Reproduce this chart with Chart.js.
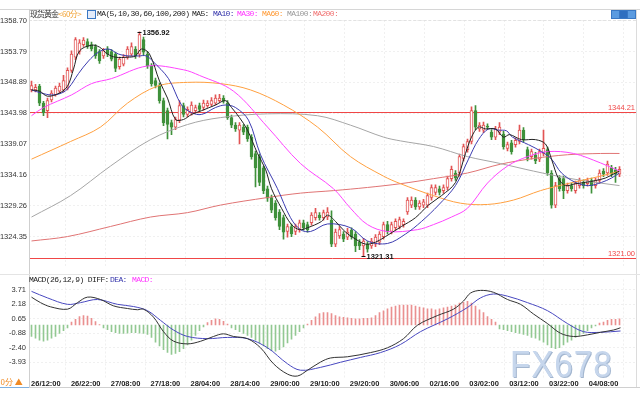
<!DOCTYPE html>
<html>
<head>
<meta charset="utf-8">
<script src="https://cdn.jsdelivr.net/npm/chart.js@4.4.0/dist/chart.umd.min.js"></script>
<style>
  body { margin:0; background:#fff; width:640px; height:400px; overflow:hidden; position:relative; font-family:"Liberation Sans", Arial, sans-serif; }
  canvas { position:absolute; left:0; }
  #main { top:0; }
  #macd { top:272px; }
  .t { position:absolute; white-space:nowrap; font-size:8px; line-height:10px; z-index:3; }
  .mono { font-family:"Liberation Mono", "DejaVu Sans Mono", monospace; letter-spacing:-0.6px; }
  .ln { position:absolute; z-index:2; }
  .ico { position:absolute; top:10px; width:7px; height:7px; background:#5b9be0; border:1px solid #3a78c4; z-index:3; }
  #wm { position:absolute; left:510px; top:344px; font-size:37px; color:#c6d6ec; text-shadow:1px 1px 0 #a3b6cf; transform:scaleX(0.9); transform-origin:left top; z-index:3; letter-spacing:1px; }
</style>
</head>
<body>
<canvas id="main" width="640" height="272"></canvas>
<canvas id="macd" width="640" height="128"></canvas>

<div class="ln" style="left:0;top:9px;width:640px;height:1px;background:#d6d6d6"></div>
<div class="ln" style="left:29px;top:20px;width:607px;border-top:1px dashed #e2e2e2"></div>
<div class="ln" style="left:29px;top:9px;width:1px;height:378px;background:#cfcfcf"></div>
<div class="ln" style="left:636px;top:9px;width:1px;height:378px;background:#dcdcdc"></div>
<div class="ln" style="left:0;top:274px;width:640px;height:1px;background:#e4e4e4"></div>
<div class="ln" style="left:0;top:387px;width:640px;height:1px;background:#d0d0d0"></div>
<div class="ln" style="left:0;top:387px;width:29px;height:1px;background:#7fb0e0"></div>

<span class="t" style="left:30px;top:9px;font-family:'Noto Sans CJK SC';letter-spacing:-1px;color:#333">现货黄金</span>
<span class="t" style="left:58px;top:9px;font-family:'Noto Sans CJK SC';letter-spacing:-0.5px;color:#f0a030">&lt;60分&gt;</span>
<div class="ico" style="left:87px;background:#e4ecfa"></div>
<span class="t mono" style="left:97px;top:9px;color:#222">MA(5,10,30,60,100,200)</span>
<span class="t mono" style="left:192px;top:9px;color:#222">MA5:</span>
<span class="t mono" style="left:213px;top:9px;color:#3333aa">MA10:</span>
<span class="t mono" style="left:237px;top:9px;color:#ff33ff">MA30:</span>
<span class="t mono" style="left:262px;top:9px;color:#ff9933">MA60:</span>
<span class="t mono" style="left:287px;top:9px;color:#999">MA100:</span>
<span class="t mono" style="left:313px;top:9px;color:#f07070">MA200:</span>
<div class="ico" style="left:611px"></div>
<div class="ico" style="left:619px;background:#2f6fc0"></div>
<div class="ico" style="left:627px"></div>

<span class="t mono" style="left:29px;top:275px;color:#222">MACD(26,12,9) DIFF:</span>
<span class="t mono" style="left:110px;top:275px;color:#3333aa">DEA:</span>
<span class="t mono" style="left:132px;top:275px;color:#ff33ff">MACD:</span>

<span class="t" style="left:-4px;top:377px;font-family:'Noto Sans CJK SC';color:#f08a24">60分 ▲</span>
<div id="wm">FX678</div>

<script>
// axis ticks and labels
const priceTicks = [1358.70, 1353.79, 1348.89, 1343.98, 1339.07, 1334.16, 1329.26, 1324.35];
const macdTicks = [3.71, 2.18, 0.65, -0.88, -2.40, -3.93];
const timeLabels = ['26/12:00','26/22:00','27/08:00','27/18:00','28/04:00','28/14:00','29/00:00',
  '29/10:00','29/20:00','30/06:00','02/16:00','03/02:00','03/12:00','03/22:00','04/08:00'];
const highMark = 1344.21;
const lowMark = 1321.00;

// hourly candles: [open, high, low, close]
const candles = [
  [1347.7,1349.1,1347.4,1348.4],[1347.7,1348.6,1347.4,1348.1],[1348.3,1348.6,1345.2,1345.6],[1345.6,1345.9,1343.6,1344.1],
  [1344.4,1346.4,1343.3,1346.0],[1346.1,1347.6,1345.8,1347.2],[1346.9,1348.3,1346.7,1348.0],[1347.5,1348.8,1347.2,1348.3],
  [1347.7,1350.0,1347.4,1349.2],[1348.0,1351.2,1347.7,1350.8],[1350.8,1353.9,1350.5,1353.4],[1352.9,1356.0,1352.5,1355.7],
  [1353.8,1355.7,1353.4,1355.2],[1354.9,1356.0,1354.6,1355.6],[1355.4,1355.8,1354.3,1354.6],[1354.9,1355.3,1353.9,1354.2],
  [1354.6,1354.9,1352.7,1353.1],[1353.8,1354.1,1351.9,1352.3],[1353.1,1354.3,1352.7,1353.9],[1354.2,1354.6,1353.0,1353.4],
  [1353.8,1354.1,1352.3,1352.6],[1353.4,1353.7,1350.6,1351.1],[1351.4,1352.9,1351.0,1352.6],[1351.8,1353.3,1351.5,1352.9],
  [1352.9,1354.6,1352.6,1354.2],[1353.4,1355.2,1353.1,1354.6],[1354.2,1354.6,1352.7,1353.1],[1353.4,1356.92,1352.9,1356.5],
  [1355.7,1356.1,1353.2,1353.7],[1353.4,1353.8,1351.1,1351.5],[1351.5,1351.9,1348.3,1348.7],[1349.2,1349.6,1348.0,1348.4],
  [1348.4,1348.8,1345.6,1346.0],[1346.0,1346.4,1342.0,1342.5],[1344.4,1344.8,1339.9,1342.2],[1342.5,1342.9,1340.6,1341.8],
  [1341.8,1343.4,1341.4,1343.0],[1342.9,1346.0,1342.5,1345.2],[1345.2,1345.6,1343.4,1343.8],[1343.8,1345.0,1343.4,1344.6],
  [1344.1,1345.8,1343.7,1345.3],[1344.4,1345.3,1344.0,1344.9],[1345.2,1345.6,1344.3,1344.6],[1344.9,1346.1,1344.5,1345.6],
  [1345.2,1346.0,1344.9,1345.6],[1345.4,1346.5,1345.1,1346.0],[1345.6,1346.9,1345.3,1346.4],[1346.0,1347.0,1345.7,1346.4],
  [1346.4,1346.8,1345.6,1345.9],[1345.6,1346.0,1343.0,1343.3],[1343.3,1343.7,1341.7,1342.1],[1342.1,1342.5,1341.1,1341.5],
  [1341.3,1342.5,1339.1,1342.1],[1341.8,1342.2,1340.6,1341.0],[1341.8,1342.1,1339.5,1339.9],[1340.2,1340.6,1336.7,1337.1],
  [1337.6,1338.0,1332.3,1335.3],[1337.1,1337.5,1332.5,1333.0],[1335.3,1335.6,1331.2,1331.7],[1332.0,1332.4,1330.0,1330.5],
  [1330.6,1331.0,1328.2,1328.6],[1329.7,1330.1,1327.0,1327.4],[1328.3,1328.7,1325.5,1326.0],[1327.4,1327.8,1324.0,1325.1],
  [1325.2,1326.4,1324.3,1326.0],[1326.0,1326.4,1324.4,1324.8],[1325.2,1326.4,1324.7,1326.0],[1325.5,1327.0,1325.1,1326.6],
  [1326.6,1327.0,1325.4,1325.8],[1326.3,1326.7,1325.1,1325.5],[1326.6,1328.2,1326.2,1327.8],[1327.4,1328.9,1327.0,1328.2],
  [1327.8,1328.2,1327.0,1327.4],[1327.4,1328.6,1327.0,1328.2],[1327.5,1329.0,1327.1,1328.3],[1327.0,1328.5,1322.8,1323.2],
  [1323.2,1325.6,1322.8,1325.1],[1324.5,1326.0,1324.1,1325.5],[1324.8,1325.2,1323.6,1324.0],[1324.3,1325.7,1323.9,1325.1],
  [1325.4,1325.8,1324.0,1324.4],[1324.8,1325.2,1322.0,1322.9],[1323.5,1323.9,1322.3,1322.9],[1322.9,1324.1,1321.31,1323.7],
  [1323.2,1323.6,1321.9,1322.4],[1322.9,1324.1,1322.5,1323.7],[1323.2,1324.7,1322.8,1324.3],[1323.5,1325.2,1323.1,1324.8],
  [1324.4,1326.7,1324.0,1326.3],[1326.3,1326.8,1324.8,1325.2],[1325.2,1326.7,1324.8,1326.3],[1325.8,1327.2,1325.4,1326.8],
  [1326.0,1327.5,1325.6,1327.1],[1326.3,1327.2,1325.9,1326.8],[1328.3,1330.6,1327.9,1330.2],[1329.4,1330.7,1329.0,1330.2],
  [1330.2,1330.6,1328.7,1329.1],[1329.1,1330.1,1328.7,1329.7],[1329.4,1330.3,1329.0,1329.9],[1329.4,1331.3,1329.0,1330.9],
  [1330.6,1332.6,1330.2,1332.2],[1331.4,1332.6,1331.0,1332.2],[1332.0,1332.4,1331.0,1331.4],[1331.7,1332.6,1331.3,1332.2],
  [1332.2,1334.0,1331.8,1333.6],[1333.6,1335.6,1333.2,1335.1],[1334.5,1334.9,1333.3,1333.7],[1334.5,1337.5,1334.0,1337.1],
  [1336.8,1339.1,1336.4,1338.7],[1338.2,1339.9,1337.8,1339.5],[1339.5,1345.0,1339.1,1344.4],[1344.4,1345.2,1341.4,1341.8],
  [1341.5,1342.5,1341.1,1342.1],[1341.3,1342.6,1340.9,1342.1],[1341.9,1342.3,1341.5,1341.8],[1341.0,1341.4,1339.8,1340.2],
  [1340.2,1341.9,1339.8,1341.5],[1341.0,1342.5,1340.6,1341.8],[1340.7,1341.1,1338.3,1338.7],[1338.4,1339.4,1338.0,1339.0],
  [1339.3,1339.7,1337.5,1337.9],[1339.0,1340.1,1338.6,1339.7],[1339.5,1342.1,1339.1,1341.3],[1341.3,1341.7,1339.4,1339.8],
  [1338.2,1338.6,1336.4,1336.8],[1337.1,1338.3,1336.7,1337.9],[1337.4,1337.8,1336.0,1336.4],[1336.7,1338.3,1336.3,1337.9],
  [1337.6,1341.3,1337.2,1338.4],[1338.2,1338.6,1334.1,1334.5],[1334.5,1334.9,1328.9,1329.4],[1329.4,1333.0,1329.0,1332.5],
  [1333.7,1334.1,1331.6,1332.0],[1333.6,1334.0,1330.4,1331.7],[1331.7,1332.9,1331.3,1332.5],[1332.5,1332.9,1331.6,1332.0],
  [1331.7,1333.2,1331.3,1332.8],[1332.5,1333.7,1332.1,1333.3],[1333.0,1333.4,1332.1,1332.5],[1332.8,1333.7,1332.4,1333.3],
  [1333.3,1333.7,1331.3,1332.5],[1332.5,1333.7,1332.1,1333.3],[1333.3,1335.0,1332.9,1334.5],[1334.8,1335.2,1333.9,1334.3],
  [1334.5,1336.4,1334.1,1335.9],[1335.3,1335.7,1333.9,1334.3],[1335.0,1335.4,1333.0,1334.3],[1334.3,1335.5,1333.9,1335.1]
];

// moving averages: [candle index, price]
const ma5 = [[0,1347.7],[2,1347.5],[4,1346.7],[7,1347.2],[9,1348.3],[10.5,1351.0],[12,1353.9],[15,1354.8],[17,1354.5],
  [19,1353.4],[21,1352.9],[24,1352.9],[26,1353.1],[27.5,1354.2],[29.5,1353.4],[32,1349.1],[34,1346.4],[36,1343.0],
  [38,1343.0],[40,1343.8],[42.5,1344.4],[46,1345.3],[48.5,1346.0],[50,1344.9],[52,1343.3],[54,1341.3],[56.5,1337.6],
  [58.5,1335.1],[60,1332.0],[62.5,1328.9],[65,1326.3],[67,1325.5],[69,1325.8],[72.5,1326.8],[74,1327.8],[76,1326.8],
  [78.5,1325.1],[81,1324.0],[83.5,1323.2],[86,1323.5],[88.5,1324.4],[90.25,1325.1],[92.5,1326.0],[96,1327.4],
  [99.25,1329.4],[102.5,1330.9],[106,1333.0],[108.5,1337.6],[110,1340.2],[111.75,1341.8],[113.5,1341.5],[116,1341.5],
  [118,1340.2],[119.5,1340.6],[122.5,1339.8],[126,1339.8],[128.5,1339.1],[130,1336.7],[131.75,1333.6],[133.5,1332.5],
  [136,1332.8],[138.5,1333.0],[141,1333.3],[143.5,1333.7],[146,1334.5],[147,1334.8]];
const ma10 = [[0,1347.7],[2.5,1347.2],[5,1346.9],[7.5,1347.2],[9.25,1348.0],[11.75,1350.3],[14.25,1352.3],[16.75,1353.7],
  [19.25,1354.2],[21.75,1353.4],[24.25,1353.1],[26.75,1353.1],[28.75,1353.1],[30.25,1352.3],[34.25,1349.5],[37.5,1345.3],
  [40,1344.1],[42.5,1343.8],[46,1344.9],[48.5,1345.3],[51,1344.9],[54.25,1342.9],[57.25,1337.4],[61.5,1332.0],
  [64.75,1327.4],[67.25,1325.5],[69.75,1325.2],[74,1326.4],[79.75,1325.8],[84,1323.7],[89,1323.3],[93.5,1324.8],
  [97.5,1326.8],[101.75,1329.4],[106,1332.5],[109.25,1336.7],[111.75,1339.8],[114.25,1341.5],[116.75,1341.3],
  [118.75,1341.2],[120.25,1340.2],[124.25,1339.0],[127.5,1337.9],[130,1336.7],[132.5,1334.5],[136,1333.0],
  [139.25,1332.5],[142.5,1333.0],[145,1333.7],[147,1334.5]];
const ma30 = [[0,1343.6],[3,1344.9],[10,1346.9],[15,1348.7],[20,1349.5],[29,1351.5],[38,1350.9],[42,1350.0],[50.5,1347.5],
  [59,1341.8],[67.25,1336.0],[75.5,1332.0],[79.75,1328.9],[84,1326.3],[89,1325.2],[96.5,1325.5],[100.5,1326.3],
  [105,1327.5],[109,1328.9],[114,1332.9],[119,1335.6],[124,1337.1],[129,1337.9],[135.5,1337.6],[142.25,1336.1],[147,1334.8]];
const ma60 = [[0,1336.7],[9.75,1339.5],[17.25,1341.8],[24,1345.6],[31.5,1348.3],[39,1348.9],[47.25,1348.7],[54.75,1347.7],
  [63,1345.3],[71.5,1341.8],[79.75,1337.1],[88,1334.0],[92.25,1332.8],[100.5,1330.9],[107.25,1329.7],[114,1329.5],
  [120.5,1330.2],[127.25,1331.7],[134,1332.8],[142.25,1334.0],[147,1334.8]];
const ma100 = [[0,1327.5],[9.75,1330.9],[19.75,1335.6],[29.75,1339.8],[39,1342.2],[47.25,1343.3],[59,1343.9],[71.5,1343.6],
  [79.75,1342.1],[88,1340.2],[92.25,1339.6],[100.5,1338.7],[109,1337.1],[117.25,1336.0],[125.5,1334.8],[134,1333.7],
  [142.25,1332.9],[147,1332.5]];
const ma200 = [[0,1323.7],[9,1324.4],[19.75,1326.0],[29.75,1327.5],[39,1328.2],[47.25,1329.4],[59,1330.6],[67.25,1331.3],
  [75.5,1331.7],[84,1332.2],[92.25,1332.8],[100.5,1333.6],[109,1334.5],[117.25,1335.9],[125.5,1336.8],[134,1337.4],
  [142.25,1337.6],[147,1337.6]];

// MACD
const difLine = [[0,2.94],[2.25,2.36],[4.75,1.92],[9,1.67],[11.5,2.36],[14,2.94],[17.25,2.69],[20.5,2.02],[24,1.74],
  [26.5,1.61],[28,1.67],[30.5,0.83],[33,-0.70],[35.5,-1.70],[39,-1.99],[42.25,-1.72],[45.5,-1.21],[48,-0.93],[50.5,-1.21],
  [54,-1.44],[57.25,-2.40],[60.5,-4.09],[64,-5.18],[66.5,-5.38],[69,-4.77],[72.25,-3.91],[74.75,-3.48],[79,-3.35],
  [84.75,-2.91],[89,-2.40],[93,-1.44],[96.5,-0.02],[101.5,1.00],[105.5,1.67],[108,2.53],[109.75,3.37],[112.25,3.65],
  [115.5,3.45],[119,2.69],[122.25,2.18],[125.5,1.16],[129,0.15],[132.25,-0.87],[135.5,-1.21],[139,-1.04],[142.25,-0.77],
  [145.5,-0.53],[147.25,-0.29]];
const deaLine = [[0,3.55],[4,2.86],[9,2.18],[12.25,2.36],[16.5,2.69],[21.5,2.18],[25.5,1.95],[29,1.51],[32.25,0.49],
  [35.5,-0.53],[39,-1.21],[44,-1.44],[49,-1.31],[54,-1.44],[59,-2.40],[64,-4.09],[67.25,-4.77],[72.25,-4.47],
  [77.25,-3.93],[82.25,-3.42],[87.25,-2.91],[92.25,-2.05],[97.25,-0.70],[104,0.65],[109,1.85],[112.25,2.86],
  [115.5,3.27],[119,3.04],[124,2.36],[129,1.51],[134,0.15],[138,-0.70],[142.25,-0.77],[147.25,-0.63]];
const macdHist = [
  -1.2,-1.4,-1.6,-1.7,-1.6,-1.4,-1.2,-0.9,-0.6,-0.3,
  0.3,0.6,0.9,1.0,0.95,0.7,0.35,0.05,-0.3,-0.5,
  -0.7,-0.8,-0.9,-0.9,-0.85,-0.8,-0.8,-0.85,-0.9,-1.0,
  -1.3,-1.8,-2.2,-2.6,-2.9,-3.1,-3.0,-2.8,-2.5,-2.1,
  -1.6,-1.1,-0.6,-0.2,0.25,0.5,0.65,0.6,0.4,0.1,
  -0.3,-0.5,-0.7,-0.9,-1.1,-1.3,-1.6,-1.9,-2.2,-2.5,
  -2.7,-2.75,-2.6,-2.3,-1.9,-1.5,-1.1,-0.7,-0.3,0.1,
  0.5,0.85,1.2,1.3,1.3,1.2,1.0,0.85,0.8,0.75,
  0.7,0.65,0.65,0.7,0.7,0.75,1.0,1.3,1.5,1.7,
  1.9,2.0,2.1,2.1,2.1,2.1,2.0,1.9,1.8,1.7,
  1.7,1.6,1.7,1.8,1.9,2.0,2.1,2.3,2.4,2.5,
  2.3,2.0,1.6,1.3,0.9,0.6,0.3,-0.4,-0.5,-0.6,
  -0.7,-0.8,-0.9,-1.0,-1.1,-1.3,-1.4,-1.6,-1.8,-2.1,
  -2.4,-2.5,-2.4,-2.1,-1.8,-1.6,-1.3,-1.1,-0.9,-0.6,
  -0.3,-0.1,0.2,0.3,0.5,0.6,0.6,0.65];

// layout: 4px per candle, plot from x=29 to x=636
const XMIN = -0.625, XMAX = 151.125;
const labelPos = timeLabels.map((_, k) => 3.6 + 9.96 * k);
const UP = '#e25454', DOWN = '#3f913b';

const pts = arr => arr.map(p => ({ x: p[0], y: p[1] }));
const isUp = c => c[3] >= c[0];
const maLine = (data, color) => ({ type: 'line', data: pts(data), borderColor: color, borderWidth: 1,
  pointRadius: 0, tension: 0.35, order: 1 });
const tickFont = { size: 7.5, family: '"Liberation Sans", Arial, sans-serif' };

const marks = {
  id: 'marks',
  beforeDatasetsDraw(chart) {
    const { ctx, chartArea: a, scales: { y } } = chart;
    ctx.save();
    ctx.strokeStyle = '#f04646';
    ctx.fillStyle = '#f04646';
    ctx.lineWidth = 1;
    ctx.font = '7.5px "Liberation Sans", Arial';
    ctx.textAlign = 'right';
    ctx.textBaseline = 'bottom';
    for (const v of [highMark, lowMark]) {
      const py = Math.round(y.getPixelForValue(v)) + 0.5;
      ctx.beginPath(); ctx.moveTo(a.left, py); ctx.lineTo(a.right, py); ctx.stroke();
      ctx.fillText(v.toFixed(2), a.right - 1, py - 1);
    }
    ctx.restore();
  },
  afterDatasetsDraw(chart) {
    const { ctx, scales: { x, y } } = chart;
    let hi = 0, lo = 0;
    candles.forEach((c, i) => { if (c[1] > candles[hi][1]) hi = i; if (c[2] < candles[lo][2]) lo = i; });
    ctx.save();
    ctx.fillStyle = '#111'; ctx.strokeStyle = '#111';
    ctx.font = 'bold 7.5px "Liberation Sans", Arial';
    ctx.textBaseline = 'middle';
    for (const [i, v] of [[hi, candles[hi][1]], [lo, candles[lo][2]]]) {
      const px = x.getPixelForValue(i), py = Math.round(y.getPixelForValue(v)) + 0.5;
      ctx.beginPath(); ctx.moveTo(px - 2, py); ctx.lineTo(px + 2, py); ctx.stroke();
      ctx.fillText(v.toFixed(2), px + 3, py);
    }
    ctx.restore();
  }
};

new Chart(document.getElementById('main'), {
  type: 'bar',
  data: {
    datasets: [
      maLine(ma5, '#222'),
      maLine(ma10, '#3c3cb0'),
      maLine(ma30, '#ff44ff'),
      maLine(ma60, '#ffa040'),
      maLine(ma100, '#a6a6a6'),
      maLine(ma200, '#e07474'),
      { data: candles.map((c, i) => ({ x: i, y: [c[0], c[3]] })),
        backgroundColor: candles.map(c => isUp(c) ? '#fff' : DOWN),
        borderColor: candles.map(c => isUp(c) ? UP : DOWN),
        borderWidth: 1, borderSkipped: false, barThickness: 3, minBarLength: 1, grouped: false, order: 5 },
      { data: candles.map((c, i) => ({ x: i, y: [c[2], c[1]] })),
        backgroundColor: candles.map(c => isUp(c) ? UP : DOWN),
        barThickness: 1, grouped: false, order: 6 }
    ]
  },
  options: {
    responsive: false, animation: false, events: [],
    layout: { padding: { top: 20, right: 4, left: 0, bottom: 0 } },
    plugins: { legend: { display: false }, tooltip: { enabled: false } },
    scales: {
      x: { type: 'linear', min: XMIN, max: XMAX, offset: false,
        afterBuildTicks: s => { s.ticks = labelPos.map(v => ({ value: v })); },
        afterFit: s => { s.height = 0; },
        ticks: { display: false },
        grid: { color: '#f0f0f0', drawTicks: false },
        border: { display: false, dash: [2, 2] } },
      y: { min: 1319.80, max: 1358.81,
        afterBuildTicks: s => { s.ticks = priceTicks.map(v => ({ value: v })); },
        afterFit: s => { s.width = 29; },
        ticks: { callback: v => v.toFixed(2), font: tickFont, color: '#333', padding: 2, autoSkip: false },
        grid: { color: '#f0f0f0', drawTicks: false },
        border: { display: false, dash: [2, 2] } }
    }
  },
  plugins: [marks]
});

new Chart(document.getElementById('macd'), {
  type: 'bar',
  data: {
    datasets: [
      { type: 'line', data: pts(difLine), borderColor: '#333', borderWidth: 1, pointRadius: 0, tension: 0.35, order: 1 },
      { type: 'line', data: pts(deaLine), borderColor: '#4848c0', borderWidth: 1, pointRadius: 0, tension: 0.35, order: 2 },
      { data: macdHist.map((v, i) => ({ x: i, y: v })),
        backgroundColor: macdHist.map(v => v >= 0 ? '#ea9090' : '#92c892'),
        barThickness: 1, grouped: false, order: 3 }
    ]
  },
  options: {
    responsive: false, animation: false, events: [],
    layout: { padding: { top: 4, right: 4, left: 0, bottom: 0 } },
    plugins: { legend: { display: false }, tooltip: { enabled: false } },
    scales: {
      x: { type: 'linear', min: XMIN, max: XMAX, offset: false,
        afterBuildTicks: s => { s.ticks = labelPos.map(v => ({ value: v })); },
        afterFit: s => { s.height = 22; },
        ticks: { callback: (v, i) => timeLabels[i], font: { ...tickFont, weight: 'bold' }, color: '#222',
          padding: 1, maxRotation: 0, autoSkip: false },
        grid: { color: '#f0f0f0', drawTicks: false },
        border: { display: false, dash: [2, 2] } },
      y: { min: -5.59, max: 4.80,
        afterBuildTicks: s => { s.ticks = macdTicks.map(v => ({ value: v })); },
        afterFit: s => { s.width = 29; },
        ticks: { callback: v => v.toFixed(2), font: tickFont, color: '#333', padding: 3, autoSkip: false },
        grid: { color: '#f0f0f0', drawTicks: false },
        border: { display: false, dash: [2, 2] } }
    }
  }
});
</script>
</body>
</html>
